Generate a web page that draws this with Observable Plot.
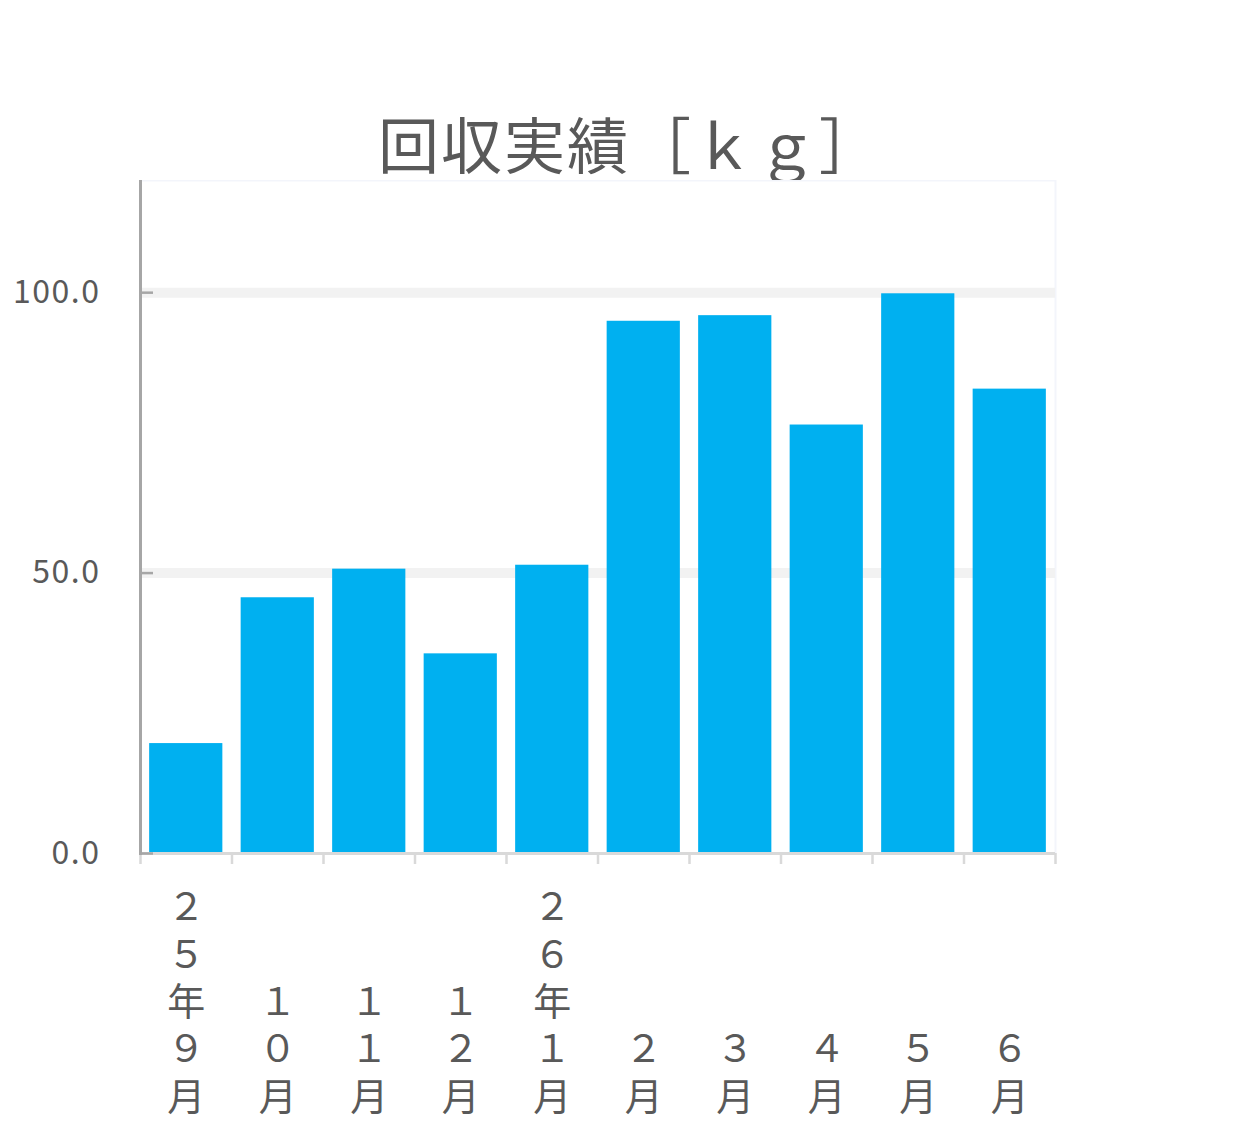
<!DOCTYPE html>
<html>
<head>
<meta charset="utf-8">
<script src="https://cdn.jsdelivr.net/npm/d3@7"></script>
<script src="https://cdn.jsdelivr.net/npm/@observablehq/plot@0.6"></script>
<style>
  body { margin: 0; background: #fff; width: 1247px; height: 1128px; position: relative; overflow: hidden; }
  #title {
    position: absolute; left: 14px; top: 112px; width: 1232px; height: 61px;
    text-align: center; font: 61px/61px "Noto Sans CJK JP", sans-serif; color: #595959;
    letter-spacing: 2px;
  }
  #plot { position: absolute; left: 0; top: 180px; }
  #plot g[aria-label="y-axis tick label"] text { letter-spacing: 1.5px; }
</style>
</head>
<body>
<div id="title">回収実績［ｋｇ］</div>
<div id="plot"></div>
<script>
// months (Heisei 25/26), collected weight in kg
const months = ["２５年９月", "１０月", "１１月", "１２月", "２６年１月", "２月", "３月", "４月", "５月", "６月"];
const amounts = [19.6, 45.6, 50.7, 35.6, 51.4, 94.9, 95.9, 76.4, 99.8, 82.8];
const yTicks = [0, 50, 100];

const rows = months.map((m, i) => ({month: m, kg: amounts[i]}));

const W = 1247, H = 948;
const mLeft = 140, mRight = 192, mBottom = 275;
const step = (W - mLeft - mRight) / months.length;
const textColor = "#595959";
const font = "'Noto Sans CJK JP', sans-serif";

const chart = Plot.plot({
  width: W,
  height: H,
  marginTop: 0,
  marginLeft: mLeft,
  marginRight: mRight,
  marginBottom: mBottom,
  style: {background: "#fff", fontFamily: font, color: textColor},
  x: {domain: months, paddingInner: 0.2, paddingOuter: 0.1, round: false, axis: null, label: null},
  y: {domain: [0, 120], axis: null, label: null},
  marks: [
    Plot.frame({stroke: "#f3f5fb", strokeWidth: 2}),
    Plot.gridY([50, 100], {stroke: "#f2f2f2", strokeOpacity: 1, strokeWidth: 10}),
    Plot.barY(rows, {x: "month", y: "kg", fill: "#00b0f0"}),
    // category boundary ticks under the baseline
    Plot.axisX({ticks: months, tickSize: 11, text: null, label: null, dx: -step / 2, stroke: "#d9d9d9", strokeWidth: 2.5}),
    Plot.axisX({ticks: months.slice(-1), tickSize: 11, text: null, label: null, dx: step / 2, stroke: "#d9d9d9", strokeWidth: 2.5}),
    Plot.ruleY([0], {stroke: "#d9d9d9", strokeWidth: 3}),
    // y axis: line, inward ticks, labels
    Plot.frame({anchor: "left", stroke: "#a6a6a6", strokeWidth: 3}),
    Plot.axisY({ticks: yTicks, tickSize: 12, dx: 13, text: null, label: null, stroke: "#a6a6a6", strokeWidth: 2.5}),
    Plot.axisY({ticks: yTicks, tickSize: 0, tickPadding: 40, label: null, tickFormat: d3.format(".1f"), fontSize: 32, fill: textColor}),
    // stacked vertical month labels
    Plot.text(rows, {
      x: "month",
      frameAnchor: "bottom",
      text: d => Array.from(d.month).join("\n"),
      lineAnchor: "bottom",
      lineHeight: 1.245,
      dy: 256,
      fontSize: 38,
      fill: textColor
    })
  ]
});

// bluish fade on the right edge of the plot area
const svg = d3.select(chart);
const grad = svg.append("defs").append("linearGradient")
  .attr("id", "edge").attr("x1", 0).attr("y1", 0).attr("x2", 0).attr("y2", 1);
grad.append("stop").attr("offset", "0%").attr("stop-color", "#f3f5fb");
grad.append("stop").attr("offset", "45%").attr("stop-color", "#eef2fa");
grad.append("stop").attr("offset", "100%").attr("stop-color", "#b4c7e7");
svg.append("line")
  .attr("x1", W - mRight).attr("x2", W - mRight)
  .attr("y1", 0).attr("y2", H - mBottom)
  .attr("stroke", "url(#edge)").attr("stroke-width", 2.5);

document.getElementById("plot").appendChild(chart);
</script>
</body>
</html>
